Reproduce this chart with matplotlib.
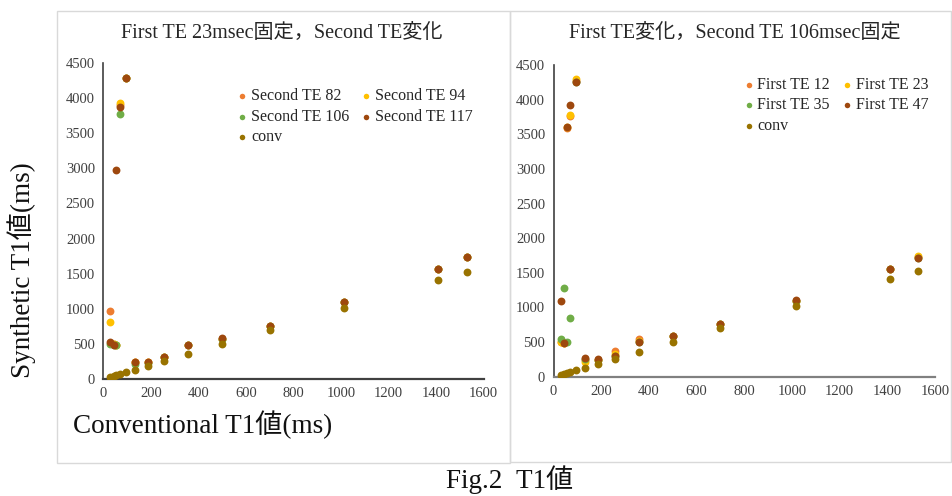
import matplotlib
matplotlib.use("Agg")
import matplotlib.pyplot as plt
from matplotlib.patches import Rectangle

# ---------------- data ----------------
conv_t1 = [30, 43, 55, 70, 96, 132, 187, 256, 357, 500, 700, 1015, 1410, 1530]

# left panel: First TE 23 msec fixed, Second TE varied
second_te82 = [973, 500, 490, 3900, 4280, 240, 235, 315, 480, 575, 755, 1095, 1560, 1735]
second_te94 = [808, 495, 490, 3927, 4280, 235, 235, 315, 480, 575, 755, 1095, 1560, 1735]
second_te106 = [500, 490, 489, 3771, 4280, 209, 230, 310, 480, 575, 755, 1095, 1560, 1735]
second_te117 = [523, 489, 2977, 3879, 4283, 247, 237, 318, 484, 580, 760, 1101, 1567, 1738]

# right panel: First TE varied, Second TE 106 msec fixed
first_te12 = [502, 490, 3590, 3770, 4270, 240, 245, 376, 550, 590, 765, 1100, 1555, 1730]
first_te23 = [495, 485, 3600, 3777, 4294, 217, 240, 330, 520, 590, 765, 1100, 1555, 1740]
first_te35 = [546, 1274, 502, 854, 4260, 250, 245, 300, 500, 590, 765, 1100, 1555, 1720]
first_te47 = [1100, 483, 3609, 3918, 4260, 266, 256, 300, 502, 593, 767, 1105, 1559, 1718]

left_labels = ["Second TE 82", "Second TE 94", "Second TE 106", "Second TE 117", "conv"]
right_labels = ["First TE 12", "First TE 23", "First TE 35", "First TE 47", "conv"]
titles = ["First TE 23msec固定，Second TE変化", "First TE変化，Second TE 106msec固定"]
xticks = [0, 200, 400, 600, 800, 1000, 1200, 1400, 1600]
yticks = [0, 500, 1000, 1500, 2000, 2500, 3000, 3500, 4000, 4500]

colors = ["#ED7D31", "#FFC000", "#70AD47", "#9E480E", "#997300"]

FONT = ["Liberation Serif", "Noto Sans CJK JP", "DejaVu Sans"]
plt.rcParams["font.family"] = FONT

W, H = 952, 496
fig = plt.figure(figsize=(W / 100, H / 100), dpi=100)


def px_rect(x0, y0, x1, y1):
    return [x0 / W, 1 - y1 / H, (x1 - x0) / W, (y1 - y0) / H]


# panel frames
for (x0, y0, x1, y1) in [(57, 11, 510, 463), (510, 11, 951, 462)]:
    fig.patches.append(Rectangle((x0 / W, 1 - y1 / H), (x1 - x0) / W, (y1 - y0) / H,
                                 transform=fig.transFigure, fill=False,
                                 edgecolor="#d9d9d9", linewidth=1.0))

axL = fig.add_axes(px_rect(103.3, 63, 483.5, 379))
axR = fig.add_axes(px_rect(553.5, 65, 935, 376.7))


def style(ax, bottom_color):
    ax.set_xlim(0, 1600)
    ax.set_ylim(0, 4500)
    ax.set_xticks(xticks)
    ax.set_yticks(yticks)
    for s in ["top", "right"]:
        ax.spines[s].set_visible(False)
    ax.spines["left"].set_color("#404040")
    ax.spines["bottom"].set_color(bottom_color)
    ax.spines["left"].set_linewidth(1.2)
    ax.spines["bottom"].set_linewidth(1.6)
    ax.tick_params(length=0, labelsize=10.5, colors="#404040", pad=6)
    ax.set_facecolor("none")


def plot_panel(ax, series, labels, leg_xy):
    handles = []
    for vals, lab, col in zip(series, labels, colors):
        h = ax.scatter(conv_t1, vals, s=32, color=col, label=lab, linewidths=0, zorder=3)
        handles.append(h)
    order = [0, 2, 4, 1, 3]
    leg = ax.legend([handles[i] for i in order], [labels[i] for i in order],
                    ncol=2, loc="upper left", bbox_to_anchor=leg_xy, frameon=False,
                    fontsize=11.5, markerscale=0.7, handletextpad=0.1, columnspacing=0.6,
                    labelspacing=0.28, borderaxespad=0, handlelength=0.9)
    for t in leg.get_texts():
        t.set_color("#262626")


style(axL, "#404040")
style(axR, "#808080")

plot_panel(axL, [second_te82, second_te94, second_te106, second_te117, conv_t1],
           left_labels, (0.33, 0.94))
plot_panel(axR, [first_te12, first_te23, first_te35, first_te47, conv_t1],
           right_labels, (0.476, 0.982))

fig.text(282 / W, 1 - 33 / H, titles[0], ha="center", va="center", fontsize=14.5, color="#262626")
fig.text(735 / W, 1 - 33 / H, titles[1], ha="center", va="center", fontsize=14.5, color="#262626")

fig.text(22 / W, 1 - 270 / H, "Synthetic T1値(ms)", rotation=90, ha="center", va="center",
         fontsize=19.5, color="#111111")
fig.text(73 / W, 1 - 425 / H, "Conventional T1値(ms)", ha="left", va="center",
         fontsize=19.5, color="#111111")
fig.text(510 / W, 1 - 480 / H, "Fig.2\u2002T1値", ha="center", va="center",
         fontsize=19.5, color="#111111")

fig.savefig("out.png", dpi=100)
